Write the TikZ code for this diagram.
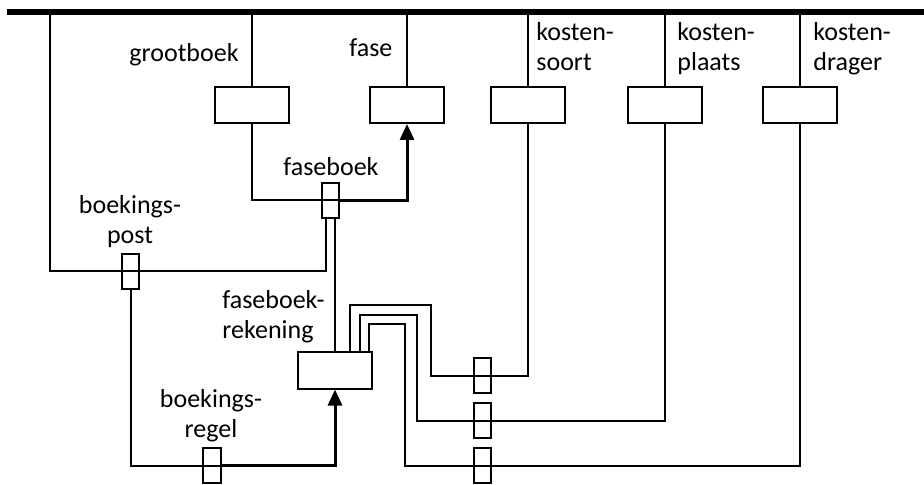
\documentclass[tikz,border=0pt]{standalone}
\usepackage{fontspec}
\setmainfont{Carlito}
\usetikzlibrary{arrows.meta, positioning, calc}

\begin{document}
\begin{tikzpicture}[x=0.5pt, y=-0.5pt,
  entity/.style={rectangle, draw, line width=1pt, minimum width=37pt, minimum height=18pt, inner sep=0pt},
  link/.style={rectangle, draw, line width=1pt, minimum width=8.75pt, minimum height=17.5pt, inner sep=0pt},
  lbl/.style={inner sep=0pt, font=\fontsize{13}{15}\selectfont},
  ln/.style={line width=1pt},
  arr/.style={-{Triangle[length=8pt, width=7pt]}, line width=1.5pt},
  bar/.style={line width=3pt}
]
\useasboundingbox (0,0) rectangle (924,485);
\coordinate (bar-l) at (7,12);
\coordinate (bar-r) at (924,12);
\coordinate (lft) at (50,12);
% entiteiten
\node[entity] (gb) at (252,105) {};
\node[entity] (fa) at (407,105) {};
\node[entity] (ks) at (528,105) {};
\node[entity] (kp) at (665,105) {};
\node[entity] (kd) at (800,105) {};
\node[entity] (fbr) at (335,370.5) {};
% koppelingen
\node[link] (fb) at (330.5,200.5) {};
\node[link] (bp) at (130.5,271.5) {};
\node[link] (br) at (212,465.5) {};
\node[link] (ks1) at (482.5,375.5) {};
\node[link] (kp1) at (482.5,420.5) {};
\node[link] (kd1) at (482.5,465.5) {};
% labels
\node[lbl, anchor=north east] (l-gb) at (239,43) {grootboek};
\node[lbl, anchor=north west] (l-fa) at (349,38) {fase};
\node[lbl, anchor=north west] (l-fb) at (283,157) {faseboek};
\node[lbl, anchor=north, align=center] (l-bp) at (130,195) {boekings-\\post};
\node[lbl, anchor=north west, align=left] (l-fbr) at (222,290) {faseboek-\\rekening};
\node[lbl, anchor=north, align=center] (l-br) at (211,389) {boekings-\\regel};
\node[lbl, anchor=north west, align=left] (l-ks) at (536,22) {kosten-\\soort};
\node[lbl, anchor=north west, align=left] (l-kp) at (677,22) {kosten-\\plaats};
\node[lbl, anchor=north west, align=left] (l-kd) at (813,22) {kosten-\\drager};
% lijnen
\draw[bar] (bar-l) -- (bar-r);
\foreach \e in {gb,fa,ks,kp,kd}
  \draw[ln] (\e.north |- bar-l) -- (\e.north);
\draw[ln] (lft) |- (bp.center) -| ($(fb.south)+(-4.5,0)$);
\draw[ln] (gb.south) |- (fb.east);
\draw[arr] (fb.east) -| (fa.south);
\draw[ln] (fbr.north) -- (fbr.north |- fb.south);
\draw[ln] (bp.south) |- (br.east);
\draw[arr] (br.east) -| (fbr.south);
\foreach \e/\j/\xa/\ya/\dx in {ks/ks1/431/305/15, kp/kp1/417/315/25, kd/kd1/405/324/34}
  \draw[ln] (\e.south) |- (\j.center) -| (\xa,\ya) -| ($(fbr.north)+(\dx,0)$);
\end{tikzpicture}
\end{document}
